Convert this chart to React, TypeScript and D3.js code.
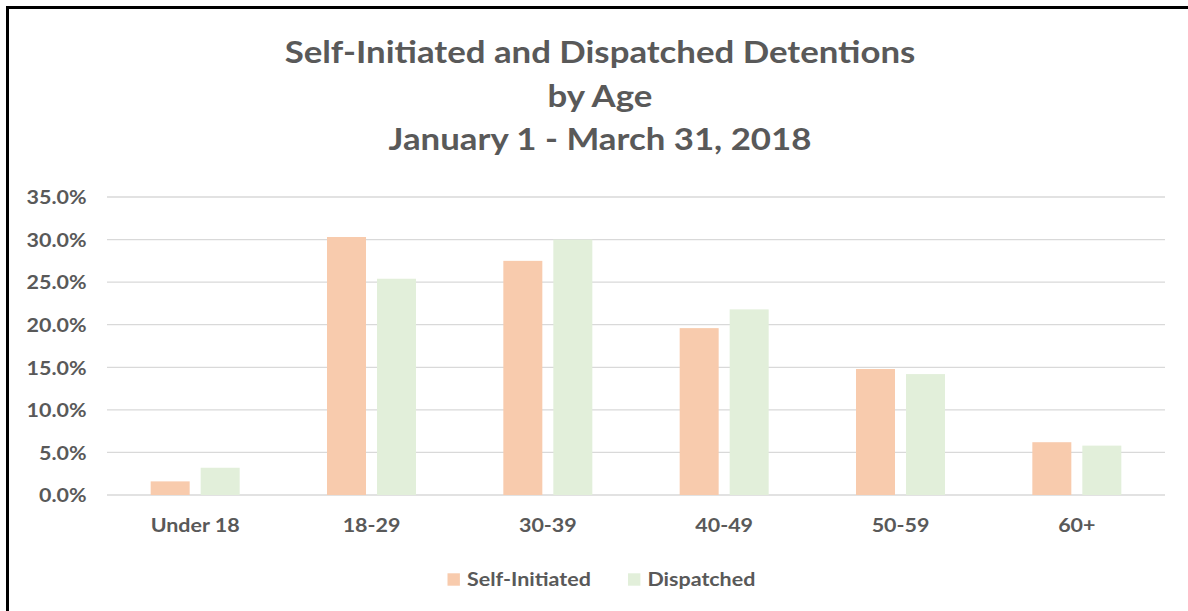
import React from "react";
import * as d3 from "d3";

const categories = ["Under 18", "18-29", "30-39", "40-49", "50-59", "60+"];
const seriesNames = ["Self-Initiated", "Dispatched"];
const selfInitiated = [1.6, 30.3, 27.5, 19.6, 14.8, 6.2];
const dispatched = [3.2, 25.4, 30.0, 21.8, 14.2, 5.8];
const yTicks = [0, 5, 10, 15, 20, 25, 30, 35];
const titleLines = [
  "Self-Initiated and Dispatched Detentions",
  "by Age",
  "January 1 - March 31, 2018",
];
const colors = ["#F8CBAD", "#E2EFDA"];

const W = 1188;
const H = 611;
const FONT = "Lato, 'Open Sans', sans-serif";
const TEXT = "#595959";
const SX = 1.16;

function T(props: { x: number; y: number; anchor?: string; size: number; children: React.ReactNode }) {
  return (
    <text
      transform={`translate(${props.x},${props.y}) scale(${SX},1)`}
      textAnchor={props.anchor || "start"}
      fontFamily={FONT}
      fontWeight={700}
      fontSize={props.size}
      fill={TEXT}
    >
      {props.children}
    </text>
  );
}

export default function App() {
  const left = 107, right = 1165, top = 197, bottom = 495;
  const x = d3.scaleBand<string>().domain(categories).range([left, right]).paddingInner(0).paddingOuter(0);
  const groupW = 89;
  const xSub = d3.scaleBand<string>().domain(seriesNames).range([0, groupW]).paddingInner(0.22).paddingOuter(0);
  const y = d3.scaleLinear().domain([0, 35]).range([bottom, top]);
  const values = [selfInitiated, dispatched];

  return (
    <svg width={W} height={H} style={{ position: "absolute", left: 0, top: 0, display: "block" }}>
      <rect x={0} y={0} width={W} height={H} fill="#fff" />
      <path d={`M7.5,${H + 5} V7.5 H${W + 5}`} fill="none" stroke="#000" strokeWidth={3} />
      {titleLines.map((t, i) => (
        <T key={t} x={600} y={63 + i * 43.5} anchor="middle" size={30}>
          {t}
        </T>
      ))}
      {yTicks.map((t) => (
        <g key={t}>
          <line x1={left} x2={right} y1={y(t)} y2={y(t)} stroke="#D9D9D9" strokeWidth={1.3} />
          <T x={86.5} y={y(t) + 7.3} anchor="end" size={18.5}>
            {t.toFixed(1) + "%"}
          </T>
        </g>
      ))}
      {categories.map((c, ci) => {
        const gx = (x(c) as number) + (x.bandwidth() - groupW) / 2;
        return (
          <g key={c}>
            {seriesNames.map((s, si) => (
              <rect
                key={s}
                x={gx + (xSub(s) as number)}
                y={y(values[si][ci])}
                width={xSub.bandwidth()}
                height={bottom - y(values[si][ci])}
                fill={colors[si]}
              />
            ))}
            <T x={(x(c) as number) + x.bandwidth() / 2} y={531.5} anchor="middle" size={18.5}>
              {c}
            </T>
          </g>
        );
      })}
      {seriesNames.map((s, si) => {
        const lx = si === 0 ? 447.5 : 628;
        return (
          <g key={s}>
            <rect x={lx} y={573.3} width={12.4} height={12.4} fill={colors[si]} />
            <T x={lx + 19.5} y={585.7} size={18.5}>
              {s}
            </T>
          </g>
        );
      })}
    </svg>
  );
}
